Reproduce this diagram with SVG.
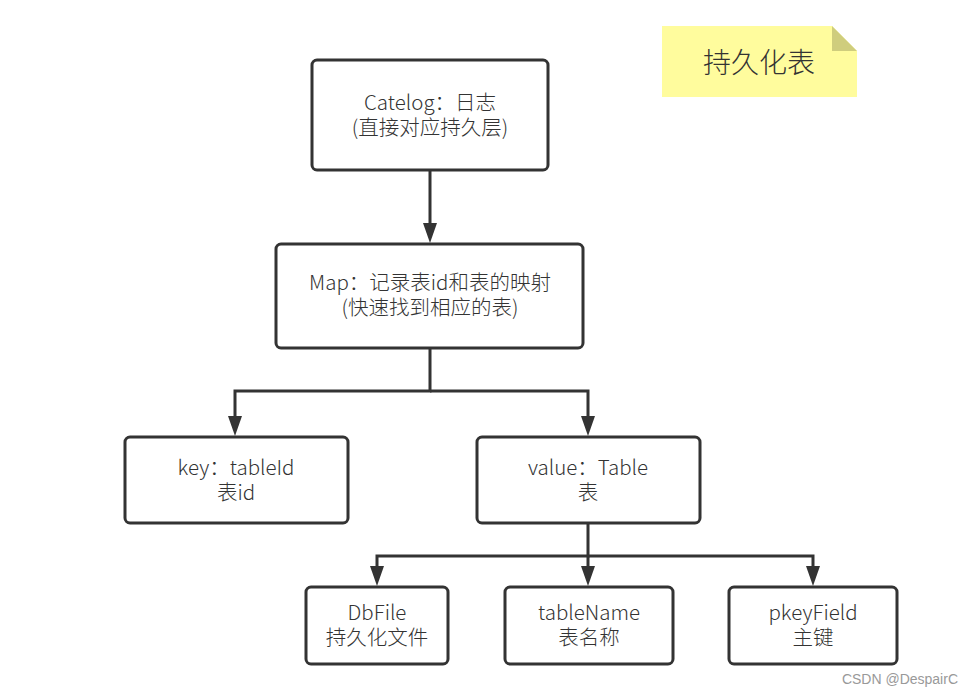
<svg xmlns="http://www.w3.org/2000/svg" width="974" height="697" viewBox="0 0 974 697">
<style>
.box{fill:#fff;stroke:#333;stroke-width:3}
.t{font-family:"Noto Sans CJK SC","Microsoft YaHei",sans-serif;font-size:20.5px;fill:#333;text-anchor:middle;font-weight:300}
.c{fill:none;stroke:#333;stroke-width:3}
</style>
<defs>
<marker id="ah" markerWidth="20" markerHeight="14" refX="0" refY="7" orient="auto" markerUnits="userSpaceOnUse" viewBox="0 0 20 14">
<path d="M0,0 L20,7 L0,14 Z" fill="#333"/>
</marker>
</defs>
<rect width="974" height="697" fill="#fff"/>
<g id="note">
<path d="M662,26 H832 L857,51 V97 H662 Z" fill="#fffc9d"/>
<path d="M832,26 L857,51 H832 Z" fill="#cfcd7d"/>
<text x="759" y="73" class="t" style="font-size:28px">持久化表</text>
</g>
<g id="connectors">
<path class="c" d="M430,170 V223" marker-end="url(#ah)"/>
<path class="c" d="M430,348 V391 H235 V416" marker-end="url(#ah)"/>
<path class="c" d="M430,391 H588 V416" marker-end="url(#ah)"/>
<path class="c" d="M588,523 V556 H377 V566" marker-end="url(#ah)"/>
<path class="c" d="M588,556 V566" marker-end="url(#ah)"/>
<path class="c" d="M588,556 H813 V566" marker-end="url(#ah)"/>
</g>
<g id="catelog">
<rect class="box" x="312" y="60" width="236" height="110" rx="5"/>
<text class="t"><tspan x="430" y="110">Catelog：日志</tspan><tspan x="430" y="135">(直接对应持久层)</tspan></text>
</g>
<g id="map">
<rect class="box" x="276" y="244" width="307" height="104" rx="5"/>
<text class="t"><tspan x="430" y="290">Map：记录表id和表的映射</tspan><tspan x="430" y="315">(快速找到相应的表)</tspan></text>
</g>
<g id="key">
<rect class="box" x="125" y="437" width="223" height="86" rx="5"/>
<text class="t"><tspan x="236" y="475">key：tableId</tspan><tspan x="236" y="500">表id</tspan></text>
</g>
<g id="value">
<rect class="box" x="477" y="437" width="223" height="86" rx="5"/>
<text class="t"><tspan x="588" y="475">value：Table</tspan><tspan x="588" y="500">表</tspan></text>
</g>
<g id="dbfile">
<rect class="box" x="306" y="587" width="142" height="77" rx="5"/>
<text class="t"><tspan x="377" y="620">DbFile</tspan><tspan x="377" y="645">持久化文件</tspan></text>
</g>
<g id="tablename">
<rect class="box" x="505" y="587" width="168" height="77" rx="5"/>
<text class="t"><tspan x="589" y="620">tableName</tspan><tspan x="589" y="645">表名称</tspan></text>
</g>
<g id="pkeyfield">
<rect class="box" x="729" y="587" width="168" height="77" rx="5"/>
<text class="t"><tspan x="813" y="620">pkeyField</tspan><tspan x="813" y="645">主键</tspan></text>
</g>
<text x="958" y="684" style="font-family:'Liberation Sans',sans-serif;font-size:14px;fill:#999;text-anchor:end">CSDN @DespairC</text>
</svg>
